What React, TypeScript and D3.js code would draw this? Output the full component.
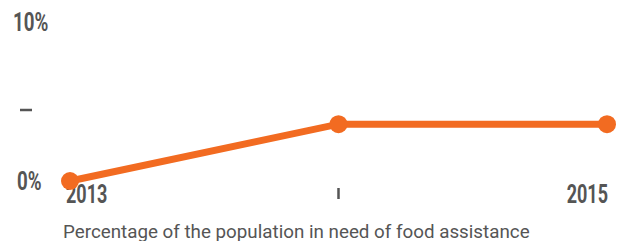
import React from "react";
import * as d3 from "d3";

const years = ["2013", "2014", "2015"];
const values = [0, 4.0, 4.0];
const yTicks = [0, 5, 10];
const yTickLabels = ["0%", "–", "10%"];
const xTickLabels = ["2013", "", "2015"];
const caption = "Percentage of the population in need of food assistance";

const W = 620;
const H = 241;
const ORANGE = "#f26b21";
const GRAY = "#555555";

export default function App() {
  const x = d3.scalePoint<string>().domain(years).range([70, 607]);
  const y = d3.scaleLinear().domain([0, 10]).range([181, 39]);
  const line = d3
    .line<number>()
    .x((_, i) => x(years[i]) as number)
    .y((d) => y(d));
  const pts = values.map((v, i) => ({ x: x(years[i]) as number, y: y(v) }));
  const condensed = (tx: number, ty: number) => `translate(${tx},${ty}) scale(0.72,1)`;

  return (
    <svg
      width={W}
      height={H}
      style={{ position: "absolute", left: 0, top: 0 }}
      fontFamily="Roboto, sans-serif"
    >
      {yTicks.map((t, i) => {
        const lbl = yTickLabels[i];
        if (lbl === "–") {
          return (
            <line key={t} x1={20} x2={32} y1={y(t)} y2={y(t)} stroke={GRAY} strokeWidth={2.5} />
          );
        }
        const dy = t === 10 ? -8 : 9;
        return (
          <text
            key={t}
            transform={condensed(t === 10 ? 13 : 17, y(t) + dy)}
            fontSize={26}
            fontWeight={700}
            fill={GRAY}
          >
            {lbl}
          </text>
        );
      })}
      {years.map((yr, i) => {
        const lbl = xTickLabels[i];
        const px = x(yr) as number;
        if (!lbl) {
          return <line key={yr} x1={px} x2={px} y1={188} y2={199} stroke={GRAY} strokeWidth={2.5} />;
        }
        const anchor = i === 0 ? "start" : "end";
        const tx = i === 0 ? px - 4 : px + 1;
        return (
          <text
            key={yr}
            transform={condensed(tx, 203)}
            fontSize={25}
            fontWeight={700}
            fill={GRAY}
            textAnchor={anchor}
          >
            {lbl}
          </text>
        );
      })}
      <path d={line(values) || ""} fill="none" stroke={ORANGE} strokeWidth={7} />
      {pts.map((p, i) => (
        <circle key={i} cx={p.x} cy={p.y} r={9} fill={ORANGE} />
      ))}
      <text x={63} y={238} fontSize={18.8} fill={GRAY}>
        {caption}
      </text>
    </svg>
  );
}
